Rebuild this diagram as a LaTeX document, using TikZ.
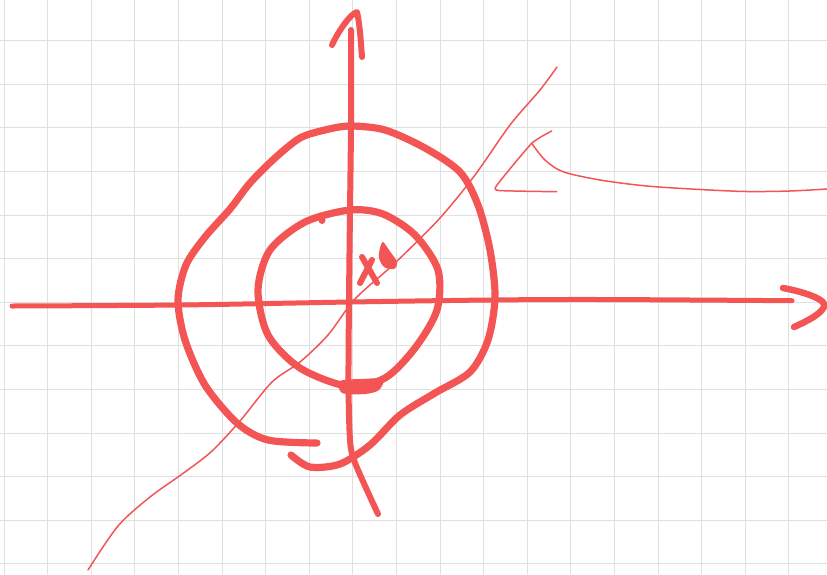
\documentclass[tikz,border=0pt]{standalone}
\definecolor{penred}{RGB}{243,85,85}
\begin{document}
\begin{tikzpicture}[x=1pt,y=-1pt,line cap=round,line join=round,
  gridline/.style={draw=black!12,line width=1pt},
  thickpen/.style={draw=penred,line width=7.2pt},
  axispen/.style={draw=penred,line width=5pt},
  thinpen/.style={draw=penred,line width=1.5pt}]
\useasboundingbox (0,0) rectangle (827,574);
\fill[white] (0,0) rectangle (827,574);
\foreach \i in {0,...,18} \draw[gridline] ({4+43.6*\i},0) -- ({4+43.6*\i},574);
\foreach \j in {1,...,13} \draw[gridline] (0,{-2.9+43.6*\j}) -- (827,{-2.9+43.6*\j});
% horizontal axis
\draw[axispen,line width=5pt] plot[smooth] coordinates {(12,306) (180,305) (350,302) (490,300) (600,299.5) (792,300.7)};
\draw[axispen,line width=6.5pt] (783,288) .. controls (805,292) and (828,300) .. (824,307) .. controls (820,315) and (805,322) .. (794,327);
% vertical axis
\draw[axispen,line width=6pt] plot[smooth] coordinates {(351,30) (351,125) (350,210) (349,300) (348.5,385) (350,440) (354,460) (366,488) (378,514)};
\draw[axispen,line width=6pt] (332,45) .. controls (338,32) and (350,14) .. (357,12) .. controls (360,25) and (361,45) .. (362,57);
% outer ring
\draw[thickpen] plot[smooth] coordinates {(317,443) (268,440) (237,423) (205,385) (185,340) (178,300) (186,265) (205,237) (230,209) (250,183) (275,158) (300,138) (325,130) (350,126) (385,130) (425,148) (460,172) (478,205) (490,250) (495,297) (488,340) (470,372) (435,393) (400,415) (370,445) (340,464) (310,467) (291,455)};
% inner circle
\draw[thickpen] plot[smooth cycle] coordinates {(350,210) (305,222) (270,250) (258,290) (268,335) (300,368) (347,386) (385,378) (415,348) (437,310) (438,270) (415,235) (383,214)};
\fill[penred] plot[smooth cycle] coordinates {(340,381) (362,379) (383,379) (379,390) (365,394) (342,393)};
\fill[penred] (322,220.5) circle (3.5);
% x mark and dot
\draw[penred,line width=6pt] (362,257) -- (377,283);
\draw[penred,line width=6pt] (372,260) -- (360,283);
\fill[penred] plot[smooth cycle] coordinates {(383,242) (389,250) (397,262) (394,269) (384,267) (379,258) (380,248)};
% thin diagonal
\draw[thinpen] plot[smooth] coordinates {(88,570) (118,526) (150,497) (185,472) (212,451) (240,421) (272,382) (300,362) (328,335) (355,299) (395,263) (440,218) (475,175) (510,125) (540,90) (557,67)};
% right sketch
\draw[thinpen] plot[smooth,tension=0.3] coordinates {(551.7,131) (531.7,143.3) (497,185) (499,190.5) (556.7,191.7)};
\draw[thinpen] plot[smooth] coordinates {(531.7,143.3) (545,160) (563,171.7) (600,180) (646.7,186) (700,189.5) (746.7,191.5) (790,191) (827,189)};
\end{tikzpicture}
\end{document}
